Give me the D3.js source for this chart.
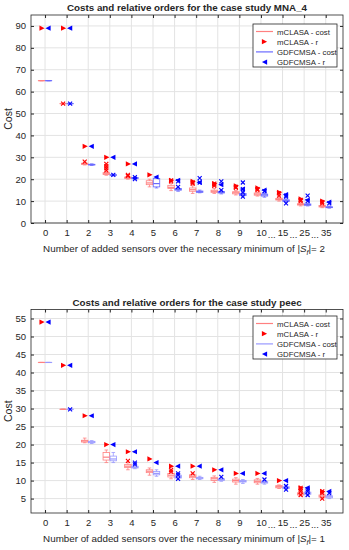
<!DOCTYPE html>
<html>
<head>
<meta charset="utf-8">
<script src="https://cdn.jsdelivr.net/npm/d3@7/dist/d3.min.js"></script>
<style>
body { margin: 0; background: #fff; }
text { font-family: "Liberation Sans", Arial, sans-serif; fill: #262626; }
</style>
</head>
<body>
<svg width="349" height="550"></svg>
<script>
var categories = ["0", "1", "2", "3", "4", "5", "6", "7", "8", "9", "10", "15", "25", "35"];

// box stats per category: [lower whisker, q1, median, q3, upper whisker]
var mnaRedBox = [[65,65,65,65,65],[54.5,54.5,54.5,54.5,54.5],[26.5,26.8,27,27.3,27.8],[21.8,22.2,22.5,23,23.3],
    [20,20.3,20.7,21,21.3],[16.5,17.5,18.3,19.3,20],[14.8,15.8,16.3,17.2,18],[13.5,14.5,15.2,16,17],
    [13.5,14,14.5,15,15.8],[12.8,13.3,13.8,14.3,14.8],[12.3,12.7,13.2,13.7,14],[10,10.5,10.8,11.2,11.7],
    [7.8,8.2,8.5,8.8,9.2],[7,7.3,7.6,8,8.3]];
var mnaBlueBox = [[65,65,65,65,65],[54.5,54.5,54.5,54.5,54.5],[26.3,26.5,26.7,26.8,27],[21.5,21.7,21.9,22.1,22.3],
    [19.8,20.2,20.5,20.8,21.2],[16,16.5,18,20.3,21],[14.5,15,15.3,15.8,16.3],[13.8,14,14.3,14.6,15],
    [13.3,13.7,14,14.4,14.8],[12,12.5,13,13.5,14],[11.8,12.3,12.8,13.2,13.6],[9.5,9.8,10.2,10.6,11],
    [7.8,8.1,8.4,8.7,9],[6.8,7,7.2,7.4,7.7]];
var mnaRedOut = [[],[54.5],[28],[24,25,26,27],[22,21.5],[],[19,19.5],[18,18.5],[17,17.5,18],[16,16.5],[15,15.5],[12.5,13.5],[10,10.5],[9,9.5]];
var mnaBlueOut = [[],[54.5],[],[22],[21,20],[],[16.5,19],[18.5,20.5],[15,19],[12,14,15.5,18.5],[14.5],[9,12,12.5],[10,12.5],[9]];
var mnaRedR = [89, 89, 35, 30, 27, 22, 19.5, 19, 18, 17, 16, 14, 11, 10];
var mnaBlueR = [89, 89, 35, 30, 27, 21, 19.5, 18.5, 17.5, 15.5, 15, 13, 10.5, 9.5];

var peecRedBox = [[42.8,42.8,42.8,42.8,42.8],[29.8,29.8,29.8,29.8,29.8],[20.5,20.7,21,21.2,21.8],[15,15.7,16.5,17.8,18.5],
    [13,13.6,14,14.5,15],[11.5,12.2,12.6,13,13.5],[10.5,11,11.5,12,12.5],[10.3,10.8,11.2,11.6,12],
    [9.5,10,10.5,10.9,11.3],[9,9.6,10,10.4,10.8],[9,9.4,9.8,10.2,10.6],[7.8,8,8.3,8.6,8.8],
    [5.8,6,6.3,6.6,7],[5,5.4,5.7,6,6.3]];
var peecBlueBox = [[42.8,42.8,42.8,42.8,42.8],[29.8,29.8,29.8,29.8,29.8],[20.3,20.5,20.7,20.9,21.1],[15,15.5,16,16.8,17.8],
    [13.3,13.5,13.7,14,14.3],[11.2,11.6,12,12.5,13],[10.3,10.7,11,11.5,12],[10.3,10.5,10.7,10.9,11.2],
    [9.8,10,10.3,10.5,10.8],[9.2,9.6,9.8,10,10.3],[9,9.3,9.5,9.7,10],[7.5,7.8,8,8.3,8.6],
    [5.8,6.2,6.5,6.8,7.2],[5,5.2,5.5,5.8,6]];
var peecRedOut = [[],[],[],[],[15.5],[],[12.5,13],[12],[],[],[],[],[6,7,7.5,8],[5,6.5,7]];
var peecBlueOut = [[],[29.8],[],[],[15,14.5],[],[10.5,11.5,12],[],[11],[],[10.3],[7.5,8.5],[6,7,7.5],[6.5]];
var peecRedR = [54, 42, 28, 20, 18, 16, 14, 14, 13, 12, 12, 10, 8, 7];
var peecBlueR = [54, 42, 28, 20, 18, 15, 14, 14, 13, 12, 12, 10, 8, 7];

var legendNames = ["mCLASA - cost", "mCLASA - r", "GDFCMSA - cost", "GDFCMSA - r"];

var svg = d3.select("svg");
var red = "#ff0000", blue = "#0000ff", lightRed = "#ff8080", lightBlue = "#8080ff";

function triPath(dir) {
    // filled triangle marker, dir 1 = right, -1 = left
    return "M" + (-2.6 * dir) + ",-2.6L" + (2.6 * dir) + ",0L" + (-2.6 * dir) + ",2.6Z";
}

function drawPanel(cfg) {
    var left = 31, right = 343;
    var g = svg.append("g");
    var x = d3.scaleLinear().domain([-0.65, 13.8]).range([left, right]);
    var y = d3.scaleLinear().domain(cfg.yDomain).range([cfg.bottom, cfg.top]);

    // grid
    g.selectAll(".vgrid").data(categories).enter().append("line")
        .attr("x1", function (d, i) { return x(i); })
        .attr("x2", function (d, i) { return x(i); })
        .attr("y1", cfg.top).attr("y2", cfg.bottom)
        .attr("stroke", "#e3e3e3").attr("stroke-width", 1);
    g.selectAll(".hgrid").data(cfg.yTicks).enter().append("line")
        .attr("x1", left).attr("x2", right)
        .attr("y1", function (d) { return y(d); })
        .attr("y2", function (d) { return y(d); })
        .attr("stroke", "#e3e3e3").attr("stroke-width", 1);

    // axes, ticks pointing inward
    g.append("g").attr("transform", "translate(0," + cfg.bottom + ")")
        .call(d3.axisBottom(x).tickValues(d3.range(categories.length)).tickSize(-3).tickPadding(6)
            .tickFormat(function (i) { return categories[i]; }));
    g.append("g").attr("transform", "translate(0," + cfg.top + ")")
        .call(d3.axisTop(x).tickValues(d3.range(categories.length)).tickSize(-3).tickFormat(""));
    g.append("g").attr("transform", "translate(" + left + ",0)")
        .call(d3.axisLeft(y).tickValues(cfg.yTicks).tickSize(-3).tickPadding(5));
    g.append("g").attr("transform", "translate(" + right + ",0)")
        .call(d3.axisRight(y).tickValues(cfg.yTicks).tickSize(-3).tickFormat(""));
    g.selectAll(".domain").remove();
    g.selectAll(".tick line").attr("stroke", "#262626");
    g.selectAll(".tick text").style("font-size", "9.5px").attr("fill", "#262626");

    // dots between the last categories
    [10.5, 11.5, 12.5].forEach(function (p) {
        g.append("text").attr("x", x(p)).attr("y", cfg.bottom + 15)
            .attr("text-anchor", "middle").style("font-size", "9.5px").text("...");
    });

    g.append("rect").attr("x", left).attr("y", cfg.top)
        .attr("width", right - left).attr("height", cfg.bottom - cfg.top)
        .attr("fill", "none").attr("stroke", "#262626").attr("stroke-width", 0.8);

    // boxplots
    function boxes(stats, off, col) {
        var bw = 6.5;
        var bg = g.append("g");
        stats.forEach(function (s, i) {
            var cx = x(i) + off;
            bg.append("line").attr("x1", cx).attr("x2", cx).attr("y1", y(s[0])).attr("y2", y(s[1]))
                .attr("stroke", col).attr("stroke-width", 0.8);
            bg.append("line").attr("x1", cx).attr("x2", cx).attr("y1", y(s[3])).attr("y2", y(s[4]))
                .attr("stroke", col).attr("stroke-width", 0.8);
            [s[0], s[4]].forEach(function (v) {
                bg.append("line").attr("x1", cx - 1.8).attr("x2", cx + 1.8).attr("y1", y(v)).attr("y2", y(v))
                    .attr("stroke", col).attr("stroke-width", 0.8);
            });
            bg.append("rect").attr("x", cx - bw / 2).attr("width", bw)
                .attr("y", y(s[3])).attr("height", Math.max(0.01, y(s[1]) - y(s[3])))
                .attr("fill", "none").attr("stroke", col).attr("stroke-width", 0.8);
            bg.append("line").attr("x1", cx - bw / 2).attr("x2", cx + bw / 2)
                .attr("y1", y(s[2])).attr("y2", y(s[2]))
                .attr("stroke", col).attr("stroke-width", 1.2);
        });
    }
    function outliers(list, off, col) {
        list.forEach(function (vals, i) {
            vals.forEach(function (v) {
                var cx = x(i) + off, cy = y(v);
                g.append("path").attr("d", "M" + (cx - 2) + "," + (cy - 2) + "L" + (cx + 2) + "," + (cy + 2) +
                    "M" + (cx - 2) + "," + (cy + 2) + "L" + (cx + 2) + "," + (cy - 2))
                    .attr("stroke", col).attr("stroke-width", 1.1);
            });
        });
    }
    function rMarks(vals, off, dir, col) {
        g.selectAll(null).data(vals).enter().append("path")
            .attr("d", triPath(dir))
            .attr("transform", function (d, i) { return "translate(" + (x(i) + off) + "," + y(d) + ")"; })
            .attr("fill", col);
    }
    boxes(cfg.redBox, -3.5, lightRed);
    boxes(cfg.blueBox, 3.5, cfg.blueLine);
    outliers(cfg.redOut, -3.5, red);
    outliers(cfg.blueOut, 3.5, blue);
    rMarks(cfg.redR, -3, 1, red);
    rMarks(cfg.blueR, 3, -1, blue);

    // title and labels
    g.append("text").attr("x", (left + right) / 2).attr("y", cfg.top - 4)
        .attr("text-anchor", "middle").style("font-size", "9.8px").style("font-weight", "bold")
        .attr("fill", "#000").text(cfg.title);
    g.append("text").attr("transform", "translate(12," + (cfg.top + cfg.bottom) / 2 + ") rotate(-90)")
        .attr("text-anchor", "middle").style("font-size", "10.5px").text("Cost");
    var xl = g.append("text").attr("x", (left + right) / 2 - 3).attr("y", cfg.bottom + 29)
        .attr("text-anchor", "middle").style("font-size", "9.8px");
    xl.append("tspan").text("Number of added sensors over the necessary minimum of |");
    xl.append("tspan").style("font-style", "italic").text("S");
    xl.append("tspan").style("font-style", "italic").style("font-size", "7px").attr("dy", 2.5).text("f");
    xl.append("tspan").attr("dy", -2.5).text("|= " + cfg.minSensors);

    // legend
    var lg = g.append("g").attr("transform", "translate(253," + cfg.legendTop + ")");
    lg.append("rect").attr("width", 84).attr("height", 43)
        .attr("fill", "#fff").attr("stroke", "#262626").attr("stroke-width", 0.8);
    legendNames.forEach(function (name, i) {
        var ly = 7.5 + i * 10.2;
        if (i % 2 === 0) {
            lg.append("line").attr("x1", 3).attr("x2", 20).attr("y1", ly).attr("y2", ly)
                .attr("stroke", i === 0 ? lightRed : cfg.blueLine).attr("stroke-width", 1.2);
        } else {
            lg.append("path").attr("d", triPath(i === 1 ? 1 : -1))
                .attr("transform", "translate(11.5," + ly + ")").attr("fill", i === 1 ? red : blue);
        }
        lg.append("text").attr("x", 24).attr("y", ly + 3).style("font-size", "7.8px").text(name);
    });
}

drawPanel({
    title: "Costs and relative orders for the case study MNA_4",
    top: 15, bottom: 223, yDomain: [0, 95], yTicks: d3.range(0, 91, 10),
    redBox: mnaRedBox, blueBox: mnaBlueBox, redOut: mnaRedOut, blueOut: mnaBlueOut,
    redR: mnaRedR, blueR: mnaBlueR, minSensors: 2, legendTop: 24, blueLine: "#6a6aff"
});
drawPanel({
    title: "Costs and relative orders for the case study peec",
    top: 309.5, bottom: 513, yDomain: [1, 57.5], yTicks: d3.range(5, 56, 5),
    redBox: peecRedBox, blueBox: peecBlueBox, redOut: peecRedOut, blueOut: peecBlueOut,
    redR: peecRedR, blueR: peecBlueR, minSensors: 1, legendTop: 316, blueLine: "#9999ff"
});
</script>
</body>
</html>
